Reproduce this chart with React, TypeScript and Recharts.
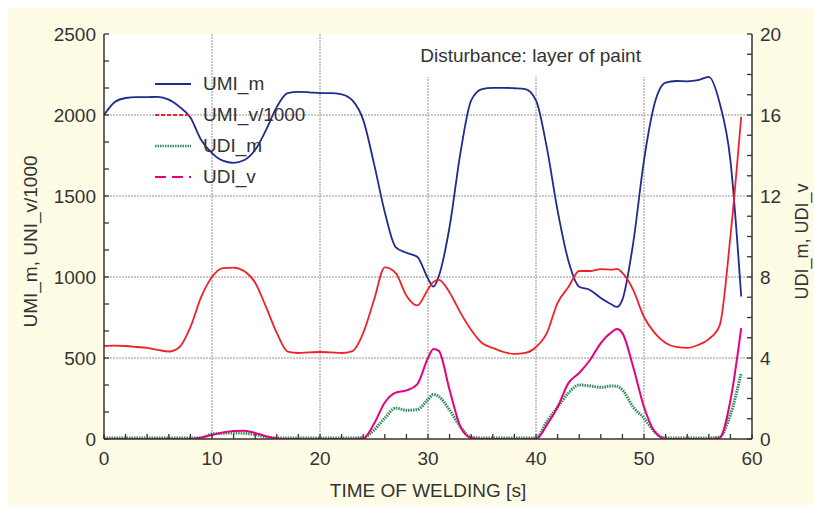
import React from "react";
import {
  ComposedChart,
  Line,
  XAxis,
  YAxis,
  CartesianGrid,
  ReferenceArea,
  Legend,
} from "recharts";

const FONT = "'Liberation Sans', Arial, sans-serif";
const INK = "#333333";
const BLUE = "#1f2b8e";
const RED = "#f02228";
const GREEN = "#2e8b5c";
const PINK = "#e6007e";

// time axis [s]
const TIME = [
  0, 1, 2, 3, 4, 5, 6, 7, 8, 9, 10, 11, 12, 13, 14, 15, 16, 17, 18, 19, 20,
  21, 22, 23, 24, 25, 26, 27, 28, 29, 30, 30.5, 31, 32, 33, 34, 35, 36, 37,
  38, 39, 40, 41, 42, 43, 44, 45, 46, 47, 47.5, 48, 49, 50, 51, 52, 53, 54,
  55, 56, 57, 58, 59,
];

// left axis
const UMI_M = [
  2000, 2080, 2105, 2110, 2110, 2112, 2095, 2050, 1985, 1846, 1765, 1718,
  1705, 1722, 1785, 1907, 2050, 2135, 2143, 2140, 2135, 2135, 2128, 2090,
  1970, 1700, 1400, 1185, 1150, 1125, 990, 940, 1005, 1310, 1765, 2090, 2160,
  2168, 2168, 2165, 2160, 2090, 1800, 1410, 1100, 940, 920, 870, 830, 815,
  860, 1210, 1720, 2075, 2200, 2210, 2208, 2215, 2235, 2075, 1720, 880,
];

const UMI_V = [
  574, 576, 574, 568, 562, 550, 540, 568, 690, 877, 1000, 1055, 1058, 1035,
  965, 815, 655, 540, 531, 535, 537, 535, 531, 543, 654, 858, 1060, 1025, 885,
  825, 925, 970, 982, 905, 780, 673, 593, 562, 537, 525, 531, 568, 654, 840,
  938, 1037, 1037, 1049, 1045, 1050, 1025, 920, 753, 654, 593, 568, 562, 580,
  617, 700, 1250, 1988,
];

// right axis
const UDI_M = [
  0.05, 0.05, 0.05, 0.05, 0.05, 0.05, 0.05, 0.05, 0.05, 0.05, 0.25, 0.28, 0.3,
  0.28, 0.22, 0.1, 0.05, 0.05, 0.05, 0.05, 0.05, 0.05, 0.05, 0.05, 0.08, 0.44,
  1.03, 1.53, 1.42, 1.45, 1.95, 2.2, 2.1, 1.43, 0.6, 0.08, 0.05, 0.05, 0.05,
  0.05, 0.05, 0.05, 0.86, 1.58, 2.27, 2.67, 2.62, 2.55, 2.62, 2.6, 2.42, 1.58,
  1.03, 0.35, 0.05, 0.05, 0.05, 0.05, 0.05, 0.1, 1.2, 3.26,
];

const UDI_V = [
  0, 0, 0, 0, 0, 0, 0, 0, 0, 0.08, 0.2, 0.32, 0.4, 0.41, 0.3, 0.14, 0.03, 0, 0,
  0, 0, 0, 0, 0, 0.02, 0.75, 1.8, 2.29, 2.4, 2.7, 4.0, 4.45, 4.35, 2.42, 0.61,
  0.05, 0, 0, 0, 0, 0, 0, 0.69, 1.58, 2.76, 3.26, 3.9, 4.74, 5.28, 5.43, 5.23,
  3.56, 1.58, 0.35, 0, 0, 0, 0, 0, 0.05, 1.9, 5.48,
];

const X_TICKS = Array.from({ length: 31 }, (_, i) => i * 2);
const LEFT_TICKS = Array.from({ length: 16 }, (_, i) => (i * 2500) / 15);
const RIGHT_TICKS = Array.from({ length: 21 }, (_, i) => i);

const data = TIME.map((t, i) => ({
  t,
  umiM: UMI_M[i],
  umiV: UMI_V[i],
  udiM: UDI_M[i],
  udiV: UDI_V[i],
}));

const SERIES = [
  { key: "umiM", name: "UMI_m", color: BLUE, axis: "left", w: 1.8, dash: undefined, legendDash: undefined },
  { key: "umiV", name: "UMI_v/1000", color: RED, axis: "left", w: 1.8, dash: undefined, legendDash: "4 2" },
  { key: "udiM", name: "UDI_m", color: GREEN, axis: "right", w: 3, dash: "1.5 1", legendDash: "1.5 1" },
  { key: "udiV", name: "UDI_v", color: PINK, axis: "right", w: 2, dash: undefined, legendDash: "11 6" },
];

const isMajor = (v: number, step: number) =>
  Math.abs(v / step - Math.round(v / step)) < 1e-6;

const tickText = { fontSize: 19, fill: INK, fontFamily: FONT };

function LeftTick({ x, y, payload }: any) {
  const v = payload.value;
  return (
    <g>
      <line x1={x} x2={x + 5} y1={y} y2={y} stroke={INK} strokeWidth={1.3} />
      {isMajor(v, 500) && (
        <text x={x - 8} y={y} textAnchor="end" dominantBaseline="central" {...tickText}>
          {Math.round(v)}
        </text>
      )}
    </g>
  );
}

function RightTick({ x, y, payload }: any) {
  const v = payload.value;
  return (
    <g>
      <line x1={x - 5} x2={x} y1={y} y2={y} stroke={INK} strokeWidth={1.3} />
      {isMajor(v, 4) && (
        <text x={x + 8} y={y} textAnchor="start" dominantBaseline="central" {...tickText}>
          {v}
        </text>
      )}
    </g>
  );
}

function BottomTick({ x, y, payload }: any) {
  const v = payload.value;
  return (
    <g>
      <line x1={x} x2={x} y1={y - 5} y2={y} stroke={INK} strokeWidth={1.3} />
      {isMajor(v, 10) && (
        <text x={x} y={y + 19} textAnchor="middle" dominantBaseline="central" {...tickText}>
          {v}
        </text>
      )}
    </g>
  );
}

function TopTick({ x, y }: any) {
  return <line x1={x} x2={x} y1={y} y2={y + 5} stroke={INK} strokeWidth={1.3} />;
}

function VLabel({ viewBox, text, dx, size }: any) {
  if (!viewBox) return null;
  const cx = viewBox.x + dx;
  const cy = viewBox.y + viewBox.height / 2 + 5;
  return (
    <text
      transform={`translate(${cx}, ${cy}) rotate(-90)`}
      textAnchor="middle"
      dominantBaseline="central"
      {...tickText}
      fontSize={size}
    >
      {text}
    </text>
  );
}

function LegendBox() {
  return (
    <div style={{ fontFamily: FONT, fontSize: 19, color: INK }}>
      {SERIES.map((s) => (
        <div key={s.key} style={{ display: "flex", alignItems: "center", height: 31 }}>
          <svg width={36} height={10} style={{ display: "block" }}>
            <line
              x1={0}
              y1={5}
              x2={36}
              y2={5}
              stroke={s.color}
              strokeWidth={s.w > 2 ? 2.5 : 1.8}
              strokeDasharray={s.legendDash}
            />
          </svg>
          <span style={{ marginLeft: 12, lineHeight: "31px" }}>{s.name}</span>
        </div>
      ))}
    </div>
  );
}

export default function App() {
  const axisLine = { stroke: INK, strokeWidth: 1.5 };
  return (
    <div
      style={{
        width: 814,
        height: 505,
        boxSizing: "border-box",
        paddingTop: 8,
        paddingLeft: 8,
        background: "#ffffff",
      }}
    >
      <style>{"body{margin:0;overflow:hidden}"}</style>
      <div style={{ width: 806, height: 497, background: "#FFFCE6", fontFamily: FONT }}>
        <ComposedChart
          width={806}
          height={497}
          data={data}
          margin={{ top: 26, right: 0, bottom: 0, left: 0 }}
        >
          <CartesianGrid
            xAxisId="bottom"
            yAxisId="left"
            fill="#ffffff"
            stroke="#cdc8c8"
            strokeWidth={2}
            strokeDasharray="2 1"
            horizontalValues={[500, 1000, 1500, 2000]}
            verticalValues={[10, 20, 30, 40, 50]}
          />
          <XAxis
            xAxisId="bottom"
            dataKey="t"
            type="number"
            domain={[0, 60]}
            allowDataOverflow
            ticks={X_TICKS}
            interval={0}
            tickSize={0}
            tickMargin={0}
            tickLine={false}
            tick={<BottomTick />}
            axisLine={axisLine}
            height={66}
            label={{
              value: "TIME OF WELDING [s]",
              position: "insideBottom",
              offset: 8,
              fontSize: 19,
              fill: INK,
            }}
          />
          <XAxis
            xAxisId="top"
            orientation="top"
            dataKey="t"
            type="number"
            domain={[0, 60]}
            allowDataOverflow
            ticks={X_TICKS}
            interval={0}
            tickSize={0}
            tickMargin={0}
            tickLine={false}
            tick={<TopTick />}
            axisLine={axisLine}
            height={0}
          />
          <YAxis
            yAxisId="left"
            type="number"
            domain={[0, 2500]}
            allowDataOverflow
            ticks={LEFT_TICKS}
            interval={0}
            tickSize={0}
            tickMargin={0}
            tickLine={false}
            tick={<LeftTick />}
            axisLine={axisLine}
            width={96}
            label={<VLabel text="UMI_m, UNI_v/1000" dx={22} size={19} />}
          />
          <YAxis
            yAxisId="right"
            orientation="right"
            type="number"
            domain={[0, 20]}
            allowDataOverflow
            ticks={RIGHT_TICKS}
            interval={0}
            tickSize={0}
            tickMargin={0}
            tickLine={false}
            tick={<RightTick />}
            axisLine={axisLine}
            width={62}
            label={<VLabel text="UDI_m, UDI_v" dx={50} size={18} />}
          />
          <ReferenceArea
            xAxisId="bottom"
            yAxisId="left"
            x1={28.4}
            x2={50.6}
            y1={2235}
            y2={2500}
            fill="#ffffff"
            fillOpacity={1}
            stroke="none"
            label={{
              value: "Disturbance: layer of paint",
              position: "center",
              fontSize: 19,
              fill: INK,
            }}
          />
          <Legend
            content={<LegendBox />}
            layout="vertical"
            align="center"
            verticalAlign="middle"
            wrapperStyle={{ left: 147, top: 60, width: 220 }}
          />
          {SERIES.map((s) => (
            <Line
              key={s.key}
              xAxisId="bottom"
              yAxisId={s.axis}
              type="monotone"
              dataKey={s.key}
              name={s.name}
              stroke={s.color}
              strokeWidth={s.w}
              strokeDasharray={s.dash}
              dot={false}
              activeDot={false}
              isAnimationActive={false}
            />
          ))}
        </ComposedChart>
      </div>
    </div>
  );
}
